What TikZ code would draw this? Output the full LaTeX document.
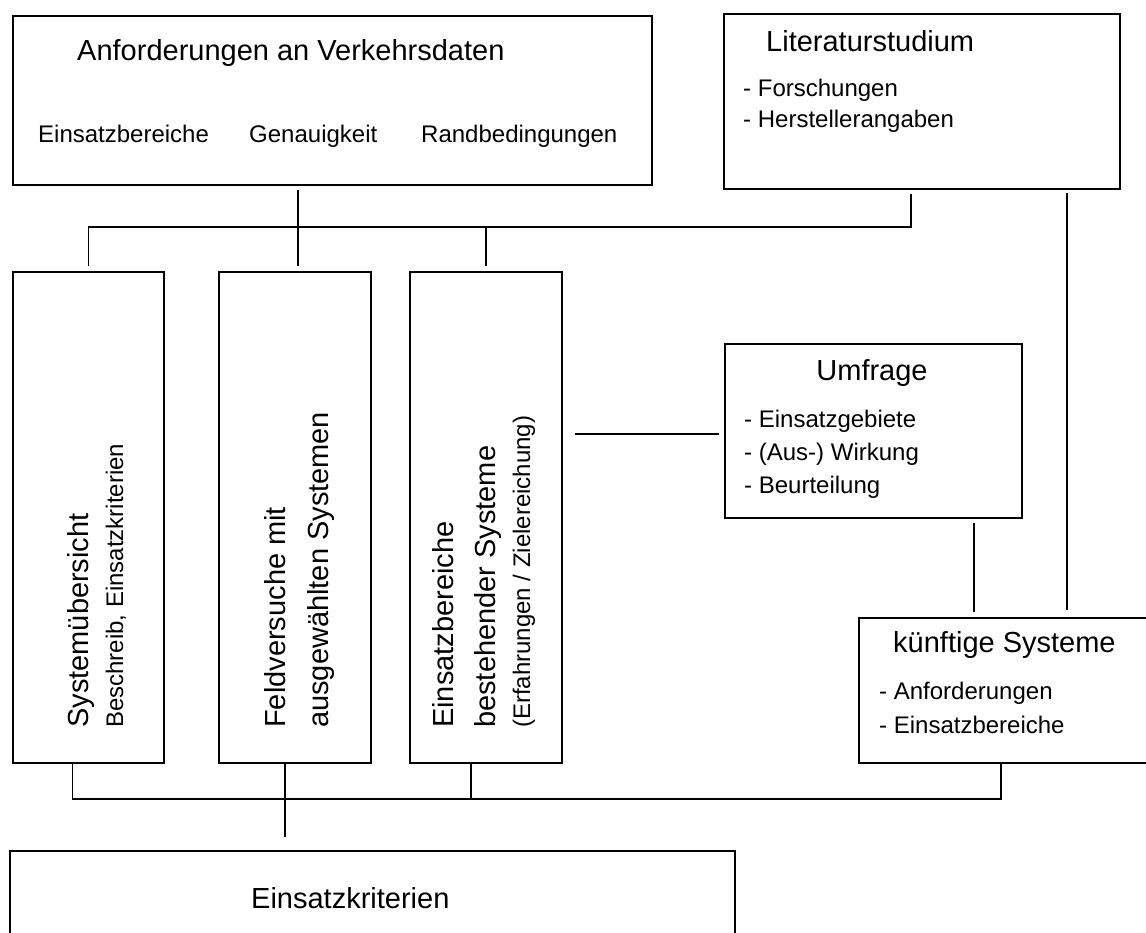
\documentclass[tikz,border=0pt]{standalone}
\usepackage{fontspec}
\setmainfont{Liberation Sans}

\begin{document}
\begin{tikzpicture}[x=1pt,y=-1pt,
  box/.style={draw,line width=1.8pt,anchor=north west,inner sep=0pt},
  head/.style={inner sep=0pt,anchor=base west,font=\fontsize{29}{34}\selectfont},
  item/.style={inner sep=0pt,anchor=base west,font=\fontsize{24}{28}\selectfont},
  link/.style={line width=1.8pt},
  gap/.style={shorten <=4pt,shorten >=5pt}]
  \useasboundingbox (0,0) rectangle (1146,933);

  % boxes
  \node (anf) [box,minimum width=639pt,minimum height=169pt] at (12,15) {};
  \node (lit) [box,minimum width=396pt,minimum height=175pt] at (723,13) {};
  \node (sys) [box,minimum width=151pt,minimum height=491pt] at (12,271) {};
  \node (feld) [box,minimum width=152pt,minimum height=491pt] at (218,271) {};
  \node (best) [box,minimum width=152pt,minimum height=491pt] at (409,271) {};
  \node (umf) [box,minimum width=297pt,minimum height=174pt] at (724,343) {};
  \node (kuenf) [box,minimum width=310pt,minimum height=145pt] at (858,617) {};
  \node (krit) [box,minimum width=725pt,minimum height=110pt] at (9,850) {};

  % texts
  \node (anfT) [head] at (77,61) {Anforderungen an Verkehrsdaten};
  \node (anfA) [item] at (38,143) {Einsatzbereiche};
  \node (anfB) [item] at (249,143) {Genauigkeit};
  \node (anfC) [item] at (421,143) {Randbedingungen};
  \node (litT) [head] at (766,52) {Literaturstudium};
  \node (litA) [item] at (743,97) {- Forschungen};
  \node (litB) [item] at (743,128) {- Herstellerangaben};
  \node (umfT) [head,anchor=base] at (872,380) {Umfrage};
  \node (umfA) [item] at (744,427) {- Einsatzgebiete};
  \node (umfB) [item] at (744,460) {- (Aus-) Wirkung};
  \node (umfC) [item] at (744,493) {- Beurteilung};
  \node (kuenfT) [head] at (893,652) {künftige Systeme};
  \node (kuenfA) [item] at (879,699) {- Anforderungen};
  \node (kuenfB) [item] at (879,733) {- Einsatzbereiche};
  \node (kritT) [head] at (251,908) {Einsatzkriterien};
  \node (sysT) [head,rotate=90] at (88,728) {Systemübersicht};
  \node (sysA) [item,rotate=90] at (123,728) {Beschreib, Einsatzkriterien};
  \node (feldT) [head,rotate=90] at (285,728) {Feldversuche mit};
  \node (feldA) [head,rotate=90] at (328,728) {ausgewählten Systemen};
  \node (bestT) [head,rotate=90] at (453,728) {Einsatzbereiche};
  \node (bestA) [head,rotate=90] at (495,728) {bestehender Systeme};
  \node (bestB) [item,rotate=90] at (530,728) {(Erfahrungen / Zielereichung)};

  % connectors
  \coordinate (topbus) at (0,227);
  \coordinate (botbus) at (0,799);
  \coordinate (fcol) at (298,0);
  \coordinate (ucol) at (974,0);
  \coordinate (lcol) at (1067,0);
  \coordinate (kcol) at (1001,0);
  \coordinate (urow) at (0,434);
  \draw[link,gap] (anf.south -| fcol) -- (feld.north -| fcol);
  \draw[link,gap] ([xshift=-11pt]lit.south) |- (sys.north |- topbus) -- (sys.north);
  \draw[link,shorten >=5pt] (best.north |- topbus) -- (best.north);
  \draw[link,shorten <=12pt,shorten >=5pt] (best.east |- urow) -- (umf.west |- urow);
  \draw[link,gap] (umf.south -| ucol) -- (kuenf.north -| ucol);
  \draw[link,shorten <=3pt,shorten >=7pt] (lit.south -| lcol) -- (kuenf.north -| lcol);
  \draw[link] ([xshift=-16pt]sys.south) |- (botbus -| kcol) -- (kuenf.south -| kcol);
  \draw[link,shorten >=13pt] ([xshift=-10pt]feld.south) -- ([xshift=-10pt]feld.south |- krit.north);
  \draw[link] ([xshift=-15pt]best.south) -- ([xshift=-15pt]best.south |- botbus);
\end{tikzpicture}
\end{document}
